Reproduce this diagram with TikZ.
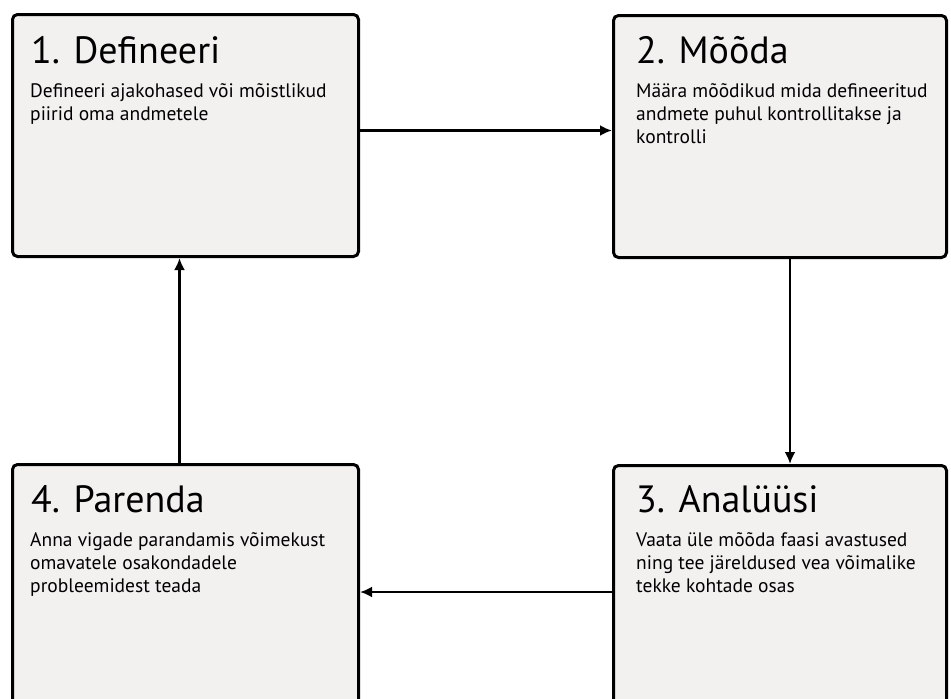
\documentclass[tikz,border=0pt]{standalone}
\usepackage{fontspec}
\setmainfont{PT Sans}
\usetikzlibrary{arrows.meta, positioning}
\definecolor{boxfill}{HTML}{F2F1F0}

\begin{document}
\begin{tikzpicture}[x=1pt, y=-1pt,
    etapp/.style={draw, line width=3pt, rounded corners=5pt, fill=boxfill,
        anchor=north west, inner sep=0pt},
    pealkiri/.style={anchor=base west, inner sep=0pt,
        font=\fontsize{38}{42}\selectfont},
    kirjeldus/.style={anchor=north west, inner sep=0pt, align=left,
        font=\fontsize{19.5}{23}\selectfont},
    flow/.style={-{Latex[length=12pt, width=11pt]}, line width=2.7pt}]
    \clip (0,0) rectangle (951,699);

    % Etapid
    \node[etapp, minimum width=346pt, minimum height=242pt] (defineeri) at (11,13) {};
    \node[etapp, minimum width=333pt, minimum height=242pt] (mooda) at (612,14) {};
    \node[etapp, minimum width=333pt, minimum height=260pt] (analyysi) at (612,464) {};
    \node[etapp, minimum width=346pt, minimum height=260pt] (parenda) at (11,463) {};

    % Pealkirjad
    \node[pealkiri] (defineeri-t) at ([shift={(20,50)}]defineeri.north west) {1. Defineeri};
    \node[pealkiri] (mooda-t) at ([shift={(24,49)}]mooda.north west) {2. Mõõda};
    \node[pealkiri] (analyysi-t) at ([shift={(24,48)}]analyysi.north west) {3. Analüüsi};
    \node[pealkiri] (parenda-t) at ([shift={(20,49)}]parenda.north west) {4. Parenda};

    % Kirjeldused
    \node[kirjeldus] (defineeri-k) at ([shift={(19,70)}]defineeri.north west)
        {Defineeri ajakohased või mõistlikud\\piirid oma andmetele};
    \node[kirjeldus] (mooda-k) at ([shift={(24,69)}]mooda.north west)
        {Määra mõõdikud mida defineeritud\\andmete puhul kontrollitakse ja\\kontrolli};
    \node[kirjeldus] (analyysi-k) at ([shift={(24,68)}]analyysi.north west)
        {Vaata üle mõõda faasi avastused\\ning tee järeldused vea võimalike\\tekke kohtade osas};
    \node[kirjeldus] (parenda-k) at ([shift={(19,69)}]parenda.north west)
        {Anna vigade parandamis võimekust\\omavatele osakondadele\\probleemidest teada};

    % Nooled
    \draw[flow] ([yshift=5pt]defineeri.east) -- ([yshift=5pt]defineeri.east -| mooda.west);
    \draw[flow] ([xshift=10pt]mooda.south) -- ([xshift=10pt]mooda.south |- analyysi.north);
    \draw[flow] ([yshift=-128pt]analyysi.north west) -- ([yshift=-128pt]analyysi.north west -| parenda.east);
    \draw[flow] ([xshift=-6pt]parenda.north) -- ([xshift=-6pt]parenda.north |- defineeri.south);
\end{tikzpicture}
\end{document}
